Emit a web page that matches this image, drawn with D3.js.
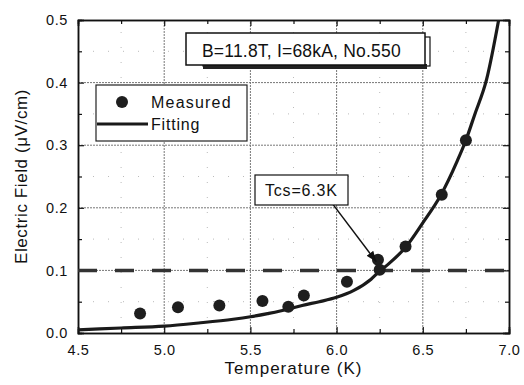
<!DOCTYPE html>
<html>
<head>
<meta charset="utf-8">
<script src="https://cdn.jsdelivr.net/npm/d3@7"></script>
<style>
  body { margin: 0; background: #fff; }
  text { font-family: "Liberation Sans", Arial, sans-serif; fill: #111; }
</style>
</head>
<body>
<div id="chart"></div>
<script>
// measured points
const measuredT = [4.86, 5.08, 5.32, 5.57, 5.72, 5.81, 6.06, 6.24, 6.25, 6.40, 6.61, 6.75];
const measuredE = [0.031, 0.041, 0.044, 0.051, 0.042, 0.060, 0.082, 0.117, 0.101, 0.138, 0.221, 0.308];

// fitting curve
const fitT = [4.5, 4.75, 5.0, 5.2, 5.4, 5.5, 5.6, 5.72, 5.8, 5.9, 6.0, 6.1, 6.2, 6.25, 6.3, 6.4, 6.5, 6.6, 6.7, 6.75, 6.8, 6.87, 6.94];
const fitE = [0.005, 0.008, 0.011, 0.016, 0.022, 0.026, 0.031, 0.038, 0.044, 0.050, 0.057, 0.068, 0.086, 0.099, 0.110, 0.137, 0.176, 0.218, 0.275, 0.308, 0.348, 0.405, 0.5];

const xTicks = [4.5, 5.0, 5.5, 6.0, 6.5, 7.0];
const yTicks = [0.0, 0.1, 0.2, 0.3, 0.4, 0.5];
const criterion = 0.1;

const W = 524, H = 385;
const m = {left: 78, right: 15, top: 20, bottom: 52};

const svg = d3.select("#chart").append("svg")
  .attr("width", W)
  .attr("height", H);

const x = d3.scaleLinear().domain([4.5, 7.0]).range([m.left, W - m.right]);
const y = d3.scaleLinear().domain([0, 0.5]).range([H - m.bottom, m.top]);

const xMinor = d3.range(4.75, 7.0, 0.5);
const yMinor = d3.range(0.05, 0.5, 0.1);

// grid
svg.append("g").selectAll("line.gx")
  .data(xTicks.slice(1, -1)).enter().append("line")
  .attr("x1", d => x(d)).attr("x2", d => x(d))
  .attr("y1", y(0)).attr("y2", y(0.5))
  .attr("stroke", "#777").attr("stroke-width", 1).attr("stroke-dasharray", "2,1");
svg.append("g").selectAll("line.gy")
  .data(yTicks.slice(1, -1)).enter().append("line")
  .attr("y1", d => y(d)).attr("y2", d => y(d))
  .attr("x1", x(4.5)).attr("x2", x(7.0))
  .attr("stroke", "#777").attr("stroke-width", 1).attr("stroke-dasharray", "2,1");
// faint minor grid
svg.append("g").selectAll("line")
  .data(xMinor).enter().append("line")
  .attr("x1", d => x(d)).attr("x2", d => x(d))
  .attr("y1", y(0)).attr("y2", y(0.5))
  .attr("stroke", "#bbb").attr("stroke-dasharray", "1,14");
svg.append("g").selectAll("line")
  .data(yMinor).enter().append("line")
  .attr("y1", d => y(d)).attr("y2", d => y(d))
  .attr("x1", x(4.5)).attr("x2", x(7.0))
  .attr("stroke", "#bbb").attr("stroke-dasharray", "1,14");

// axes (ticks inside, mirrored)
const fmt = d3.format(".1f");
svg.append("g").attr("transform", `translate(0,${y(0)})`)
  .call(d3.axisBottom(x).tickValues(xTicks).tickFormat(fmt).tickSize(-6).tickPadding(12));
svg.append("g").attr("transform", `translate(${x(4.5)},0)`)
  .call(d3.axisLeft(y).tickValues(yTicks).tickFormat(fmt).tickSize(-6).tickPadding(10));
svg.append("g").attr("transform", `translate(0,${y(0.5)})`)
  .call(d3.axisTop(x).tickValues(xTicks).tickFormat("").tickSize(-6));
svg.append("g").attr("transform", `translate(${x(7.0)},0)`)
  .call(d3.axisRight(y).tickValues(yTicks).tickFormat("").tickSize(-6));
// minor ticks
svg.append("g").attr("transform", `translate(0,${y(0)})`)
  .call(d3.axisBottom(x).tickValues(xMinor).tickFormat("").tickSize(-4));
svg.append("g").attr("transform", `translate(0,${y(0.5)})`)
  .call(d3.axisTop(x).tickValues(xMinor).tickFormat("").tickSize(-4));
svg.append("g").attr("transform", `translate(${x(4.5)},0)`)
  .call(d3.axisLeft(y).tickValues(yMinor).tickFormat("").tickSize(-4));
svg.append("g").attr("transform", `translate(${x(7.0)},0)`)
  .call(d3.axisRight(y).tickValues(yMinor).tickFormat("").tickSize(-4));

svg.selectAll(".domain").attr("stroke", "#111").attr("stroke-width", 1.5);
svg.selectAll(".tick line").attr("stroke", "#111").attr("stroke-width", 1.2);
svg.selectAll(".tick text").attr("font-size", "14.5px").attr("letter-spacing", "0.6px")
  .attr("font-family", "Liberation Sans, Arial, sans-serif").attr("fill", "#111");

// axis titles
svg.append("text")
  .attr("x", (x(4.5) + x(7.0)) / 2).attr("y", 374)
  .attr("text-anchor", "middle").attr("font-size", "17px").attr("letter-spacing", "1px")
  .text("Temperature (K)");
svg.append("text")
  .attr("transform", `translate(27,${(y(0) + y(0.5)) / 2}) rotate(-90)`)
  .attr("text-anchor", "middle").attr("font-size", "17px").attr("letter-spacing", "0.6px")
  .text("Electric Field (\u03BCV/cm)");

// clip
svg.append("clipPath").attr("id", "clip").append("rect")
  .attr("x", x(4.5)).attr("y", y(0.5))
  .attr("width", x(7.0) - x(4.5)).attr("height", y(0) - y(0.5));

// criterion dashed line
svg.append("line")
  .attr("x1", x(4.5)).attr("x2", x(7.0))
  .attr("y1", y(criterion)).attr("y2", y(criterion))
  .attr("stroke", "#333").attr("stroke-width", 3.5).attr("stroke-dasharray", "19,18");

// fitting curve
const fitData = fitT.map((t, i) => [t, fitE[i]]);
svg.append("path")
  .datum(fitData)
  .attr("clip-path", "url(#clip)")
  .attr("fill", "none").attr("stroke", "#1a1a1a").attr("stroke-width", 3.2)
  .attr("d", d3.line().x(d => x(d[0])).y(d => y(d[1])).curve(d3.curveMonotoneX));

// measured points
svg.append("g").selectAll("circle")
  .data(measuredT.map((t, i) => [t, measuredE[i]]))
  .enter().append("circle")
  .attr("cx", d => x(d[0])).attr("cy", d => y(d[1]))
  .attr("r", 6).attr("fill", "#1e1e1e");

// condition box with shadow
svg.append("rect").attr("x", 203).attr("y", 37).attr("width", 227).attr("height", 29)
  .attr("fill", "#fff").attr("stroke", "#111").attr("stroke-width", 1.2);
svg.append("rect").attr("x", 203).attr("y", 64).attr("width", 224).attr("height", 5)
  .attr("fill", "#222");
svg.append("rect").attr("x", 186).attr("y", 33).attr("width", 239).attr("height", 32)
  .attr("fill", "#fff").attr("stroke", "#111").attr("stroke-width", 1.5);
svg.append("text").attr("x", 202).attr("y", 57)
  .attr("font-size", "17.5px").attr("letter-spacing", "0.2px")
  .text("B=11.8T, I=68kA, No.550");

// legend
const lg = svg.append("g");
lg.append("rect").attr("x", 96).attr("y", 85).attr("width", 151).attr("height", 56)
  .attr("fill", "#fff").attr("stroke", "#222").attr("stroke-width", 1.2);
lg.append("circle").attr("cx", 122).attr("cy", 102).attr("r", 6).attr("fill", "#1e1e1e");
lg.append("line").attr("x1", 97).attr("x2", 148).attr("y1", 124).attr("y2", 124)
  .attr("stroke", "#1a1a1a").attr("stroke-width", 3.2);
lg.append("text").attr("x", 151).attr("y", 108).attr("font-size", "16px").attr("letter-spacing", "1.2px")
  .text("Measured");
lg.append("text").attr("x", 151).attr("y", 130).attr("font-size", "16px").attr("letter-spacing", "0.8px")
  .text("Fitting");

// Tcs annotation
svg.append("defs").append("marker")
  .attr("id", "arrow").attr("viewBox", "0 0 10 10")
  .attr("refX", 10).attr("refY", 5)
  .attr("markerWidth", 7).attr("markerHeight", 7)
  .attr("orient", "auto")
  .append("path").attr("d", "M0,1 L10,5 L0,9 z").attr("fill", "#111");
svg.append("line")
  .attr("x1", x(5.98)).attr("y1", y(0.205))
  .attr("x2", x(6.23)).attr("y2", y(0.114))
  .attr("stroke", "#111").attr("stroke-width", 1.5)
  .attr("marker-end", "url(#arrow)");
svg.append("rect").attr("x", 255).attr("y", 175).attr("width", 93).attr("height", 30)
  .attr("fill", "#fff").attr("stroke", "#111").attr("stroke-width", 1.2);
svg.append("text").attr("x", 265).attr("y", 196)
  .attr("font-size", "16px").attr("letter-spacing", "0.8px")
  .text("Tcs=6.3K");
</script>
</body>
</html>
